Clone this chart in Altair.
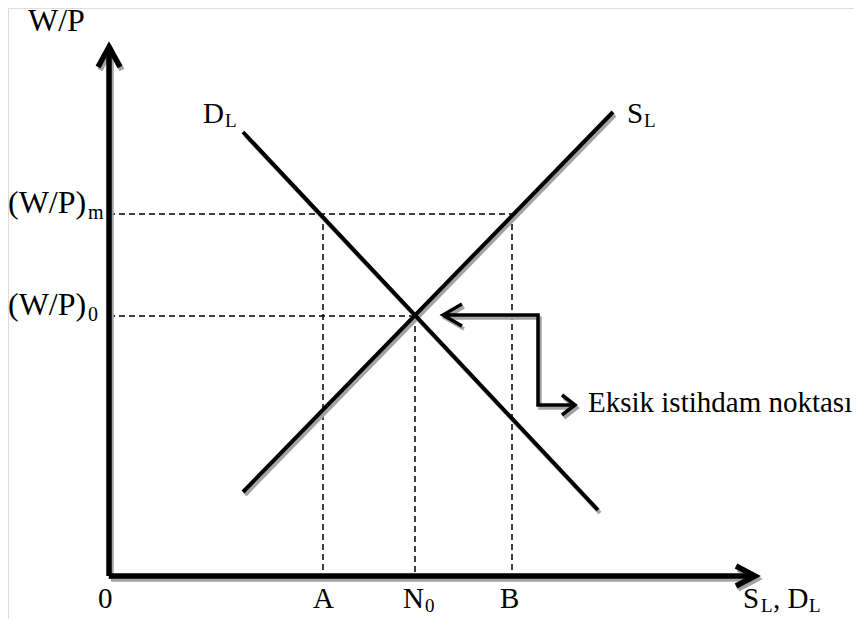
import altair as alt
import pandas as pd

# ---- diagram values (x = quantity of labour, y = real wage), origin = (0, 0)
Q_A, Q_N0, Q_B = 214, 306, 403
W_0, W_M = 260, 362

DL_x = [134, 489]
DL_y = [444, 66]
SL_x = [134, 504]
SL_y = [84, 464]

# axes (with chevron arrowheads)
AX_Y_x = [0, 0]
AX_Y_y = [0, 529]
AX_X_x = [0, 646]
AX_X_y = [0, 0]
HEAD_Y_x = [-11, 0, 11]
HEAD_Y_y = [509, 529, 509]
HEAD_X_x = [627, 646, 627]
HEAD_X_y = [10, 0, -10]

# callout arrow "Eksik istihdam noktası"
CALL_x = [334, 429, 429, 466]
CALL_y = [261, 261, 171, 171]
CALL_HL_x = [353, 334, 353]
CALL_HL_y = [272, 261, 250]
CALL_HR_x = [453, 466, 453]
CALL_HR_y = [181, 171, 161]

# text labels: wage-axis labels (larger) and the rest
WAGE_TXT = ["W/P", "(W/P)", "(W/P)"]
WAGE_X = [-81, -101, -101]
WAGE_Y = [545, 363, 261]
WAGE_SUB_TXT = ["m", "0"]
WAGE_SUB_X = [-21, -21]
WAGE_SUB_Y = [357, 255]

MAIN_TXT = ["0", "A", "N", "B", "S", ", D", "D", "S",
            "Eksik istihdam noktası"]
MAIN_X = [-11, 204, 294, 391, 634, 664, 94, 518, 479]
MAIN_Y = [-32, -32, -32, -32, -32, -32, 453, 453, 164]
SUB_TXT = ["0", "L", "L", "L", "L"]
SUB_X = [316, 652, 700, 116, 535]
SUB_Y = [-36, -36, -36, 449, 449]


def path_df(groups):
    rows = []
    for gid, (xs, ys) in enumerate(groups):
        for i, (xv, yv) in enumerate(zip(xs, ys)):
            rows.append({"id": gid, "o": i, "x": xv, "y": yv})
    return pd.DataFrame(rows)


axes_df = path_df([(AX_Y_x, AX_Y_y), (AX_X_x, AX_X_y),
                   (HEAD_Y_x, HEAD_Y_y), (HEAD_X_x, HEAD_X_y)])
curves_df = path_df([(DL_x, DL_y), (SL_x, SL_y)])
call_df = path_df([(CALL_x, CALL_y), (CALL_HL_x, CALL_HL_y),
                   (CALL_HR_x, CALL_HR_y)])

dash_df = pd.DataFrame({
    "x": [0, 0, Q_A, Q_N0, Q_B],
    "x2": [Q_B, Q_N0, Q_A, Q_N0, Q_B],
    "y": [W_M, W_0, W_M, W_0, W_M],
    "y2": [W_M, W_0, 0, 0, 0],
})

XS = alt.Scale(domain=[-101, 745], nice=False, zero=False)
YS = alt.Scale(domain=[-43, 568], nice=False, zero=False)
X = alt.X("x:Q", scale=XS, axis=None)
Y = alt.Y("y:Q", scale=YS, axis=None)

SHADOW = "#a3a3a3"
FONT = "Liberation Serif"


def path_layers(df, width):
    shadow = alt.Chart(df).mark_line(
        color=SHADOW, strokeWidth=width, xOffset=2, yOffset=3,
        strokeJoin="miter", strokeCap="butt"
    ).encode(x=X, y=Y, detail="id:N", order="o:Q")
    solid = alt.Chart(df).mark_line(
        color="black", strokeWidth=width, strokeJoin="miter", strokeCap="butt"
    ).encode(x=X, y=Y, detail="id:N", order="o:Q")
    return [shadow, solid]


def text_layer(txt, xs, ys, size):
    df = pd.DataFrame({"t": txt, "x": xs, "y": ys})
    return alt.Chart(df).mark_text(
        font=FONT, fontSize=size, align="left", baseline="alphabetic",
        color="black"
    ).encode(x=X, y=Y, text="t:N")


dashes = alt.Chart(dash_df).mark_rule(
    color="black", strokeWidth=1.5, strokeDash=[6, 4]
).encode(x=X, x2="x2:Q", y=Y, y2="y2:Q")

layers = [dashes]
layers += path_layers(curves_df, 4)
layers += path_layers(call_df, 3.5)
layers += path_layers(axes_df, 5.5)
layers += [
    text_layer(WAGE_TXT, WAGE_X, WAGE_Y, 32),
    text_layer(WAGE_SUB_TXT, WAGE_SUB_X, WAGE_SUB_Y, 20),
    text_layer(MAIN_TXT, MAIN_X, MAIN_Y, 29),
    text_layer(SUB_TXT, SUB_X, SUB_Y, 19),
]

chart = alt.layer(*layers).properties(
    width=846, height=611,
    autosize=alt.AutoSizeParams(type="none"),
    padding=0,
).configure_view(stroke=None).configure(background="white")

chart.save("out.html", embed_options={"renderer": "svg", "actions": False})
